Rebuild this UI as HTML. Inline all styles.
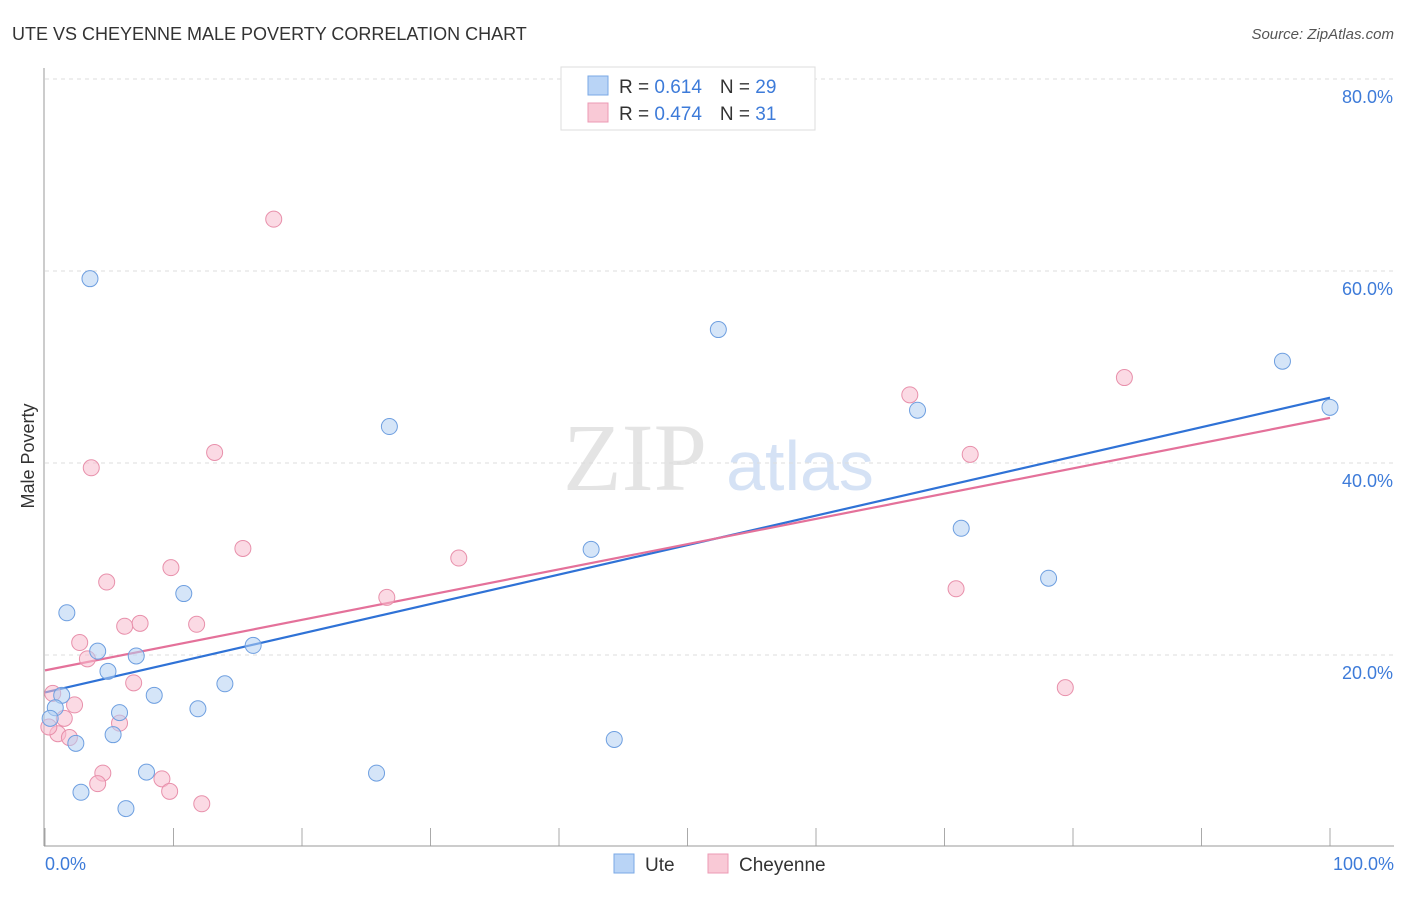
<!DOCTYPE html>
<html><head><meta charset="utf-8"><style>
body{margin:0;background:#fff;font-family:"Liberation Sans",sans-serif}
</style></head><body>
<svg width="1406" height="892" xmlns="http://www.w3.org/2000/svg" font-family="Liberation Sans, sans-serif">
<text x="12" y="40" font-size="18" fill="#333">UTE VS CHEYENNE MALE POVERTY CORRELATION CHART</text>
<text x="1394" y="39" font-size="15" fill="#555" font-style="italic" text-anchor="end">Source: ZipAtlas.com</text>
<text x="635" y="490" font-size="96" fill="#e4e4e4" font-family="Liberation Serif, serif" text-anchor="middle">ZIP</text>
<text x="800" y="490" font-size="70" fill="#d5e2f5" text-anchor="middle">atlas</text>
<g id="grid"></g>
<line x1="44" y1="68" x2="44" y2="846" stroke="#999"/>
<line x1="44" y1="846" x2="1394" y2="846" stroke="#999"/>
<text x="34" y="456" font-size="18" fill="#333" text-anchor="middle" transform="rotate(-90 34 456)">Male Poverty</text>
<text x="45" y="870" font-size="18" fill="#3d7bd9">0.0%</text>
<text x="1394" y="870" font-size="18" fill="#3d7bd9" text-anchor="end">100.0%</text>
<g id="lines"></g>
<g id="pts"></g>
<g>
<rect x="561" y="67" width="254" height="63" fill="#fff" stroke="#ddd"/>
<rect x="588" y="76" width="20" height="19" fill="#b9d4f6" stroke="#7aa8e6"/>
<rect x="588" y="103" width="20" height="19" fill="#f9c9d6" stroke="#ec9ab4"/>
<text x="619" y="93" font-size="19" fill="#333">R = <tspan fill="#3d7bd9">0.614</tspan><tspan dx="18">N = </tspan><tspan fill="#3d7bd9">29</tspan></text>
<text x="619" y="120" font-size="19" fill="#333">R = <tspan fill="#3d7bd9">0.474</tspan><tspan dx="18">N = </tspan><tspan fill="#3d7bd9"> 31</tspan></text>
</g>
<g>
<rect x="614" y="854" width="20" height="19" fill="#b9d4f6" stroke="#7aa8e6"/>
<text x="645" y="871" font-size="19" fill="#333">Ute</text>
<rect x="708" y="854" width="20" height="19" fill="#f9c9d6" stroke="#ec9ab4"/>
<text x="739" y="871" font-size="19" fill="#333">Cheyenne</text>
</g>
</svg>
<script>
const yTicks=[20,40,60,80];
const yTickLabels=["20.0%","40.0%","60.0%","80.0%"];
const xTicks=[0,10,20,30,40,50,60,70,80,90,100];
const uteX=[3.5,1.7,4.1,4.9,7.1,1.3,0.8,0.4,5.8,5.3,2.4,2.8,6.3,7.9,8.5,10.8,11.9,14.0,16.2,26.8,25.8,42.5,44.3,52.4,67.9,71.3,78.1,96.3,100];
const uteY=[59.2,24.4,20.4,18.3,19.9,15.8,14.5,13.4,14.0,11.7,10.8,5.7,4.0,7.8,15.8,26.4,14.4,17.0,21.0,43.8,7.7,31.0,11.2,53.9,45.5,33.2,28.0,50.6,45.8];
const cheX=[17.8,3.6,13.2,15.4,4.8,9.8,7.4,6.2,11.8,2.7,3.3,6.9,0.6,2.3,1.5,5.8,1.0,1.9,4.5,4.1,9.1,9.7,12.2,26.6,32.2,67.3,72.0,70.9,84.0,79.4,0.3];
const cheY=[65.4,39.5,41.1,31.1,27.6,29.1,23.3,23.0,23.2,21.3,19.6,17.1,16.0,14.8,13.4,12.9,11.8,11.4,7.7,6.6,7.1,5.8,4.5,26.0,30.1,47.1,40.9,26.9,48.9,16.6,12.5];
const uteTrend=[16.1,46.8];
const cheTrend=[18.4,44.7];
const X=v=>45+v*12.85, Y=v=>847-v*9.6;
const NS="http://www.w3.org/2000/svg";
function mk(t,a,p){const e=document.createElementNS(NS,t);for(const k in a)e.setAttribute(k,a[k]);document.getElementById(p).appendChild(e);return e;}
yTicks.forEach((t,i)=>{
 const l=mk('line',{x1:45,x2:1394,y1:Y(t),y2:Y(t),stroke:'#ddd','stroke-dasharray':'4,4'},'grid');
 
 
 const tx=mk('text',{x:1393,y:Y(t)+24,'font-size':18,fill:'#3d7bd9','text-anchor':'end'},'grid');
 tx.textContent=yTickLabels[i];
 
 
});
xTicks.forEach(t=>{
 const l=mk('line',{x1:X(t),x2:X(t),y1:828,y2:846,stroke:'#aaa'},'grid');
 
 
});
function pts(xs,ys,f,s,n){xs.forEach((x,i)=>{const c=mk('circle',{cx:X(x),cy:Y(ys[i]),r:8,fill:f,'fill-opacity':0.55,stroke:s,'stroke-width':1},'pts');
 
 });}
pts(cheX,cheY,'#f7bccd','#e890ab','cheyenne-point');
pts(uteX,uteY,'#b3cff3','#6e9fe0','ute-point');
const l1=mk('line',{x1:X(0),y1:Y(uteTrend[0]),x2:X(100),y2:Y(uteTrend[1]),stroke:'#2f72d6','stroke-width':2.2},'lines');


const l2=mk('line',{x1:X(0),y1:Y(cheTrend[0]),x2:X(100),y2:Y(cheTrend[1]),stroke:'#e4719a','stroke-width':2.2},'lines');


</script>
</body></html>
